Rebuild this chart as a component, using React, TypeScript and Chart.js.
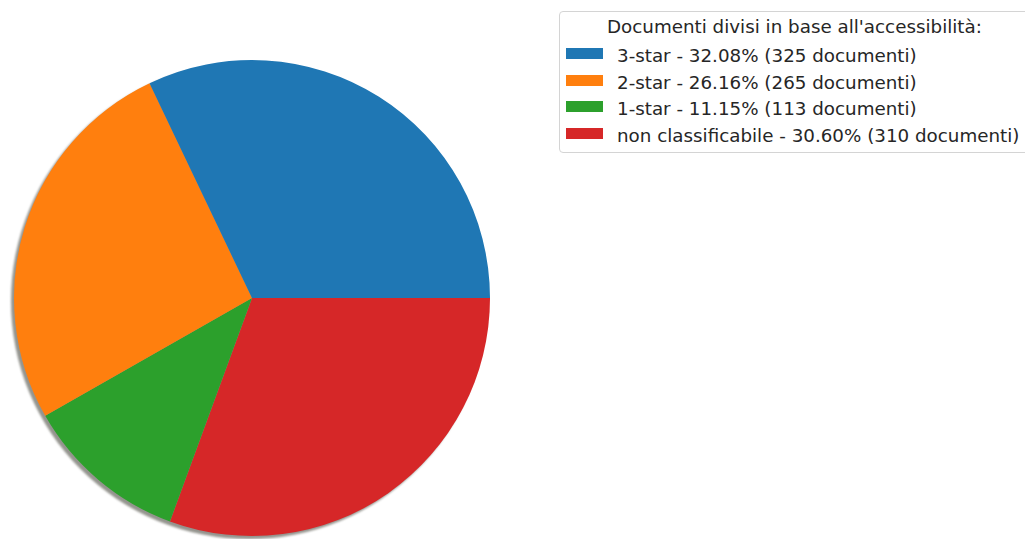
import React, { useEffect, useRef } from "react";
import { Chart, registerables } from "chart.js";

Chart.register(...registerables);

const categories = ["3-star", "2-star", "1-star", "non classificabile"];
const counts = [325, 265, 113, 310];
const percentLabels = ["32.08%", "26.16%", "11.15%", "30.60%"];
const colors = ["#1f77b4", "#ff7f0e", "#2ca02c", "#d62728"];
const legendTitle = "Documenti divisi in base all'accessibilità:";

const shadowPlugin = {
  id: "pieShadow",
  beforeDatasetsDraw(chart: any) {
    const meta = chart.getDatasetMeta(0);
    const arc = meta.data[0];
    if (!arc) return;
    const { x, y, outerRadius } = arc.getProps(["x", "y", "outerRadius"], true);
    const ctx = chart.ctx;
    ctx.save();
    ctx.fillStyle = "rgba(60,60,50,0.55)";
    ctx.filter = "blur(0.8px)";
    ctx.beginPath();
    ctx.arc(x - 3, y + 3, outerRadius, 0, Math.PI * 2);
    ctx.fill();
    ctx.restore();
  },
};

export default function App() {
  const ref = useRef<HTMLCanvasElement>(null);
  useEffect(() => {
    if (!ref.current) return;
    const order = [3, 2, 1, 0];
    const chart = new Chart(ref.current, {
      type: "pie",
      data: {
        labels: order.map((i) => categories[i]),
        datasets: [
          {
            data: order.map((i) => counts[i]),
            backgroundColor: order.map((i) => colors[i]),
            borderWidth: 0,
          },
        ],
      },
      options: {
        animation: false,
        responsive: false,
        rotation: 90,
        layout: { padding: { left: 14, top: 60, right: 535, bottom: 3 } },
        plugins: { legend: { display: false }, tooltip: { enabled: false } },
      },
      plugins: [shadowPlugin],
    });
    return () => chart.destroy();
  }, []);

  const font = '"DejaVu Sans", sans-serif';
  return (
    <div
      style={{
        position: "fixed",
        left: 0,
        top: 0,
        width: 1025,
        height: 539,
        overflow: "hidden",
        background: "#fff",
      }}
    >
      <canvas
        ref={ref}
        width={1025}
        height={539}
        style={{ position: "absolute", left: 0, top: 0, width: 1025, height: 539 }}
      />
      <div
        style={{
          position: "absolute",
          left: 559,
          top: 11,
          width: 470,
          height: 142,
          border: "1px solid #d4d4d4",
          borderRadius: 4,
          background: "#fff",
          fontFamily: font,
          fontSize: 18.3,
          color: "#262626",
          boxSizing: "border-box",
        }}
      >
        <div
          style={{
            position: "absolute",
            left: 47,
            top: 15,
            lineHeight: "0px",
            whiteSpace: "nowrap",
          }}
        >
          {legendTitle}
        </div>
        {categories.map((c, i) => (
          <React.Fragment key={c}>
            <div
              style={{
                position: "absolute",
                left: 6,
                top: 37 + i * 26.7 - 1,
                width: 37,
                height: 11,
                background: colors[i],
              }}
            />
            <div
              style={{
                position: "absolute",
                left: 57,
                top: 44 + i * 26.7,
                lineHeight: "0px",
                whiteSpace: "nowrap",
              }}
            >
              {`${c} - ${percentLabels[i]} (${counts[i]} documenti)`}
            </div>
          </React.Fragment>
        ))}
      </div>
    </div>
  );
}
